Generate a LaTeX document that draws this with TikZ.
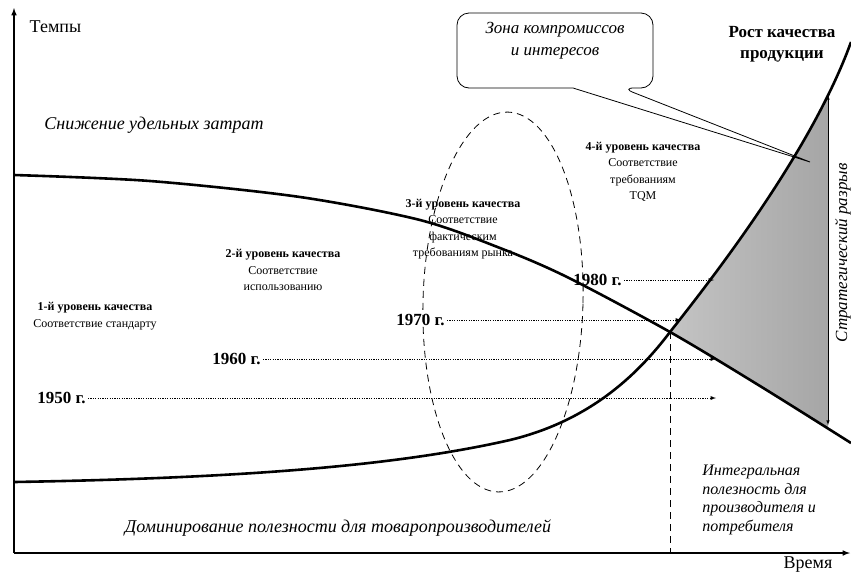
\documentclass[tikz,border=0pt]{standalone}
\usepackage{fontspec}
\setmainfont{Liberation Serif}
\begin{document}
\begin{tikzpicture}[x=1pt,y=-1pt,line width=0.8pt,
    curve/.style={line width=2.6pt,line join=round},
    axis/.style={line width=1.5pt,-latex},
    yearlbl/.style={anchor=east,inner sep=2pt,font=\fontsize{17}{20}\selectfont\bfseries},
    yearline/.style={line width=0.9pt,dash pattern=on 1.1pt off 1.3pt,-latex},
    levellbl/.style={align=center,inner sep=0pt,font=\fontsize{12}{16.5}\selectfont},
    notelbl/.style={inner sep=0pt,font=\fontsize{18}{22}\selectfont\itshape}]
    \useasboundingbox (0,0) rectangle (851,574);
    %% the two trend curves
    \def\rise{(14,482) .. controls (250,478) and (400,465) .. (510,440)
        .. controls (580,423) and (630,385) .. (670,332)
        .. controls (715,275) and (812,150) .. (851,42)}
    \def\fall{plot[smooth] coordinates {(14,175) (150,181) (300,197) (420,220) (500,248)
        (567,277) (670,332) (760,386) (851,443)}}
    %% strategic gap, shaded
    \begin{scope}
        \clip \rise -- (851,574) -- (14,574) -- cycle;
        \clip \fall -- (851,0) -- (14,0) -- cycle;
        \fill[left color=gray!45,right color=gray!70] (660,40) rectangle (828,450);
    \end{scope}
    \coordinate (gtop) at (828,95);
    \coordinate (gbot) at (828,425);
    \draw[latex-latex,line width=0.6pt] (gtop) -- (gbot);
    \node[inner sep=0pt,font=\fontsize{17}{20}\selectfont\itshape,rotate=90] (gap) at (843,253) {Стратегический разрыв};
    %% axes
    \coordinate (o) at (14,553);
    \coordinate (ytop) at (14,8);
    \coordinate (xend) at (850,553);
    \draw[axis] (o) -- (ytop);
    \draw[axis] (o) -- (xend);
    \node[anchor=west,font=\fontsize{18}{20}\selectfont] (tempy) at (26,27) {Темпы};
    \node[font=\fontsize{18}{20}\selectfont] (vremya) at (808,565) {Время};
    %% zone of compromises
    \draw[dashed,dash pattern=on 7pt off 5pt,rotate around={-1.5:(503,302)}] (503,302) ellipse [x radius=80,y radius=190];
    \draw (573,88) [rounded corners=12pt] -- (457,88) -- (457,13) -- (653,13) -- (653,88) -- (622,88)
        [sharp corners] -- (810,162) -- cycle;
    \node[align=center,font=\fontsize{17}{22}\selectfont\itshape] (zona) at (555,41) {Зона компромиссов\\и интересов};
    %% quality levels
    \node[levellbl] (lev1) at (95,316) {\textbf{1-й уровень качества}\\Соответствие стандарту};
    \node[levellbl] (lev2) at (283,270) {\textbf{2-й уровень качества}\\Соответствие\\использованию};
    \node[levellbl] (lev3) at (463,229) {\textbf{3-й уровень качества}\\Соответствие\\фактическим\\требованиям рынка};
    \node[levellbl] (lev4) at (643,172) {\textbf{4-й уровень качества}\\Соответствие\\требованиям\\TQM};
    %% decades
    \node[yearlbl] (y1950) at (88,398) {1950 г.};
    \node[yearlbl] (y1960) at (263,359) {1960 г.};
    \node[yearlbl] (y1970) at (447,320) {1970 г.};
    \node[yearlbl] (y1980) at (624,280) {1980 г.};
    \coordinate (t1950) at (716,398);
    \coordinate (t1960) at (716,359);
    \coordinate (t1970) at (681,320);
    \coordinate (t1980) at (714,280);
    \draw[yearline] (y1950.east) -- (t1950);
    \draw[yearline] (y1960.east) -- (t1960);
    \draw[yearline] (y1970.east) -- (t1970);
    \draw[yearline] (y1980.east) -- (t1980);
    %% curves on top
    \draw[curve] \fall;
    \draw[curve] \rise;
    \coordinate (cross) at (670,332);
    \coordinate (cfoot) at (670,553);
    \draw[dashed,dash pattern=on 7pt off 5pt] (cross) -- (cfoot);
    \node[align=center,font=\fontsize{17}{21}\selectfont\bfseries] (rost) at (782,44) {Рост качества\\продукции};
    %% captions
    \node[notelbl,anchor=west] (snizh) at (44,125) {Снижение удельных затрат};
    \node[notelbl] (domin) at (338,528) {Доминирование полезности для товаропроизводителей};
    \node[align=left,anchor=west,inner sep=0pt,font=\fontsize{16}{18.7}\selectfont\itshape] (integr) at (702,500)
        {Интегральная\\полезность для\\производителя и\\потребителя};
\end{tikzpicture}
\end{document}
